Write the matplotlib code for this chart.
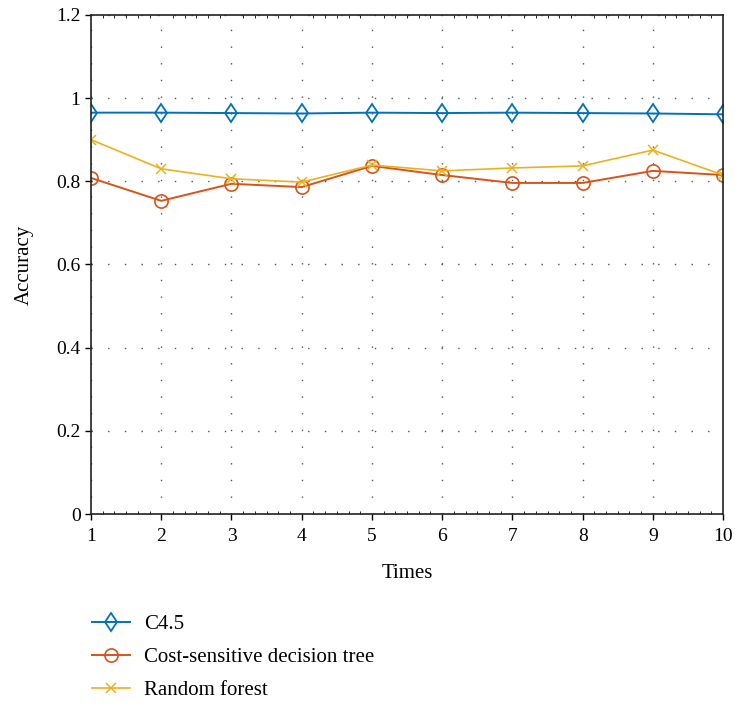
import matplotlib
matplotlib.use("Agg")

import matplotlib.pyplot as plt
from matplotlib.ticker import MultipleLocator

# data
times = [1, 2, 3, 4, 5, 6, 7, 8, 9, 10]
c45 = [0.965, 0.965, 0.964, 0.963, 0.965, 0.964, 0.965, 0.964, 0.963, 0.961]
cost_tree = [0.808, 0.753, 0.794, 0.786, 0.837, 0.815, 0.796, 0.796, 0.825, 0.815]
rand_forest = [0.900, 0.830, 0.806, 0.798, 0.839, 0.825, 0.832, 0.837, 0.875, 0.815]
yticks = [0, 0.2, 0.4, 0.6, 0.8, 1, 1.2]
ytick_labels = ["0", "0.2", "0.4", "0.6", "0.8", "1", "1.2"]

plt.rcParams["font.family"] = ["Liberation Serif", "DejaVu Serif"]

fig = plt.figure(figsize=(7.35, 7.03), dpi=100)
ax = fig.add_axes([0.1238, 0.2688, 0.86, 0.71])

l1, = ax.plot(times, c45, color="#0072BD", lw=1.4, marker="d", ms=9.5,
              mfc="none", mew=1.3, label="C4.5")
l2, = ax.plot(times, cost_tree, color="#D95319", lw=1.4, marker="o", ms=9.5,
              mfc="none", mew=1.2, label="Cost-sensitive decision tree")
l3, = ax.plot(times, rand_forest, color="#EDB120", lw=1.2, marker="x", ms=7,
              mew=1.1, label="Random forest")

ax.set_xlim(1, 10)
ax.set_ylim(0, 1.2)
ax.set_xticks(times)
ax.set_yticks(yticks)
ax.set_yticklabels(ytick_labels)
ax.xaxis.set_minor_locator(MultipleLocator(1 / 6))
ax.tick_params(which="major", direction="out", length=4, width=1,
               labelsize=14, top=False, right=False)
ax.tick_params(axis="x", which="major", pad=6)
ax.tick_params(axis="x", which="minor", direction="in", length=2, width=0.6,
               top=True)

ax.grid(True, which="major", color="#555555", linestyle=(0, (1, 11)), lw=1)
for s in ax.spines.values():
    s.set_linewidth(1.2)
    s.set_color("#222222")

ax.set_xlabel("Times", fontsize=15, labelpad=14)
ax.set_ylabel("Accuracy", fontsize=15, labelpad=16)

fig.legend(handles=[l1, l2, l3], loc="upper left",
           bbox_to_anchor=(0.114, 0.138), frameon=False, fontsize=15,
           handlelength=1.8, handletextpad=0.7, labelspacing=0.65,
           borderaxespad=0)

plt.savefig("out.png", dpi=100)
